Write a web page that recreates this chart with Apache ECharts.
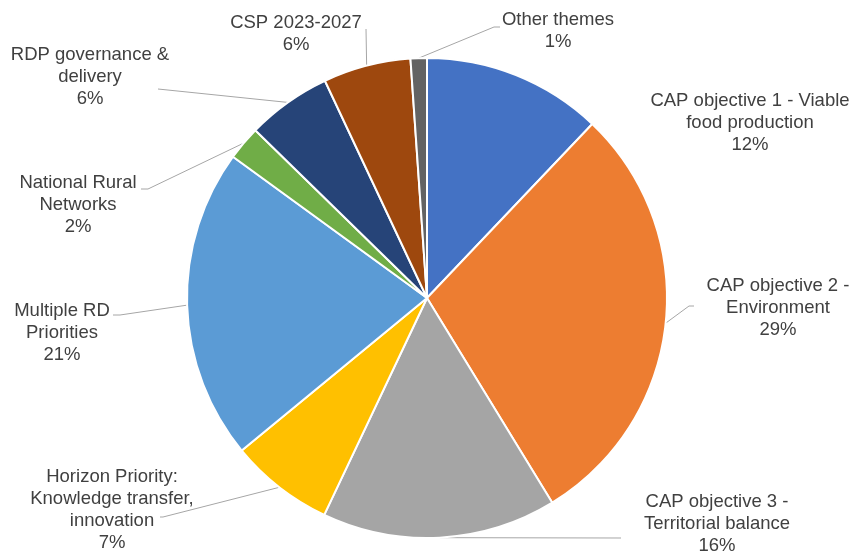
<!DOCTYPE html>
<html>
<head>
<meta charset="utf-8">
<script src="https://cdn.jsdelivr.net/npm/echarts@6/dist/echarts.min.js"></script>
<style>
html,body{margin:0;padding:0;background:#fff;}
#chart{width:853px;height:551px;}
</style>
</head>
<body>
<div id="chart"></div>
<script>
// Data
const categories = [
  'CAP objective 1 - Viable\nfood production',
  'CAP objective 2 -\nEnvironment',
  'CAP objective 3 -\nTerritorial balance',
  'Horizon Priority:\nKnowledge transfer,\ninnovation',
  'Multiple RD\nPriorities',
  'National Rural\nNetworks',
  'RDP governance &\ndelivery',
  'CSP 2023-2027',
  'Other themes'
];
const values = [12.1, 29.2, 15.8, 7.0, 21.0, 2.3, 5.7, 5.9, 1.1];
const colors = ['#4472C4', '#ED7D31', '#A5A5A5', '#FFC000', '#5B9BD5', '#70AD47', '#264478', '#9E480E', '#636363'];

// Label placement (layout only)
const labelPos = [
  [750, 123], [778, 308], [717, 524], [112, 510], [62, 333],
  [78, 205], [90, 77], [296, 34], [558, 31]
];
const lineBends = [
  null,
  [[689, 306], [694, 306]],
  [[621, 538]],
  [[163, 517], [160, 517]],
  [[120, 315], [113, 315]],
  [[148, 189], [141, 189]],
  [[158, 89]],
  [[366, 29]],
  [[494, 27], [500, 27]]
];

const chart = echarts.init(document.getElementById('chart'), null, {renderer: 'canvas'});
chart.setOption({
  animation: false,
  textStyle: {fontFamily: 'Liberation Sans, Arial, sans-serif'},
  series: [{
    type: 'pie',
    center: [427, 298],
    radius: 240,
    startAngle: 90,
    clockwise: true,
    avoidLabelOverlap: false,
    itemStyle: {borderColor: '#fff', borderWidth: 2},
    label: {
      show: true,
      position: 'outside',
      color: '#404040',
      fontSize: 18.5,
      lineHeight: 22,
      align: 'center',
      fontFamily: 'Liberation Sans, Arial, sans-serif',
      formatter: p => p.name + '\n' + Math.round(p.percent) + '%'
    },
    labelLine: {show: true, lineStyle: {color: '#A6A6A6', width: 1}, length: 10, length2: 10},
    labelLayout: function (params) {
      const i = params.dataIndex;
      const pos = labelPos[i];
      const res = {x: pos[0], y: pos[1], align: 'center', verticalAlign: 'middle'};
      if (lineBends[i] && params.labelLinePoints) {
        res.labelLinePoints = [params.labelLinePoints[0]].concat(lineBends[i]);
      }
      return res;
    },
    data: categories.map((c, i) => ({
      name: c,
      value: values[i],
      itemStyle: {color: colors[i]},
      labelLine: {show: i !== 0}
    }))
  }]
});
</script>
</body>
</html>
